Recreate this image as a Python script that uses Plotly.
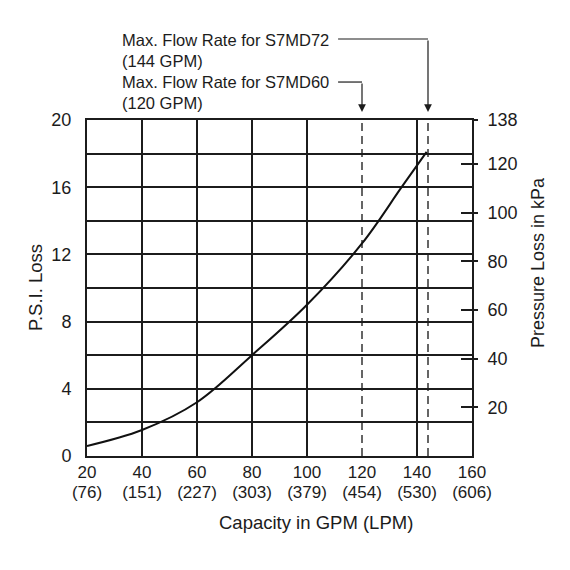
import plotly.graph_objects as go

# Данные
gpm = [20, 40, 60, 80, 100, 120, 134.4, 143.5]
psi = [0.6, 1.55, 3.2, 6.0, 9.0, 12.65, 16.0, 18.1]

gpm_ticks = [20, 40, 60, 80, 100, 120, 140, 160]
lpm_ticks = [76, 151, 227, 303, 379, 454, 530, 606]
psi_ticks = [0, 4, 8, 12, 16, 20]
kpa_ticks = [20, 40, 60, 80, 100, 120, 138]

grid_gpm = [40, 60, 80, 100, 140]  # сплошные вертикальные линии
max_flow = [120, 144]              # пунктир - максимальный расход
max_flow_labels = ["Max. Flow Rate for S7MD60<br>(120 GPM)",
                   "Max. Flow Rate for S7MD72<br>(144 GPM)"]

FONT = "Liberation Sans, Arial, sans-serif"
INK = "#1c1c1c"

fig = go.Figure()
fig.add_trace(go.Scatter(x=gpm, y=psi, mode="lines", line_shape="spline",
                         line=dict(color="#111111", width=2), hoverinfo="skip"))
# невидимые трассы для дополнительных осей
for xa, ya in [("x", "y2"), ("x", "y3"), ("x2", "y")]:
    fig.add_trace(go.Scatter(x=[gpm_ticks[0]], y=[psi_ticks[0]], xaxis=xa, yaxis=ya,
                             mode="markers", marker=dict(opacity=0), hoverinfo="skip"))

shapes = []
for g in grid_gpm:
    shapes.append(dict(type="line", xref="x", yref="y domain", x0=g, x1=g, y0=0, y1=1,
                       line=dict(color=INK, width=2), layer="below"))
for g in max_flow:
    shapes.append(dict(type="line", xref="x", yref="y domain", x0=g, x1=g, y0=0, y1=1,
                       line=dict(color="white", width=5), layer="below"))
    shapes.append(dict(type="line", xref="x", yref="y domain", x0=g, x1=g, y0=0, y1=1,
                       line=dict(color="#333333", width=1.5, dash="8px,5px"), layer="below"))

# выноски: горизонтальная часть
callout_y = [1.113, 1.241]
for g, cy in zip(max_flow, callout_y):
    shapes.append(dict(type="line", xref="x", yref="paper", x0=111.3, x1=g, y0=cy, y1=cy,
                       line=dict(color=INK, width=1.2)))

annotations = []
arrow_len = [-30, -73]
for g, ay in zip(max_flow, arrow_len):
    annotations.append(dict(x=g, y=1.024, xref="x", yref="paper", ax=0, ay=ay,
                            showarrow=True, arrowhead=2, arrowsize=1.3, arrowwidth=1.2,
                            arrowcolor=INK, text=""))
label_y = [1.082, 1.207]
for txt, ly in zip(max_flow_labels, label_y):
    annotations.append(dict(x=0.0857, y=ly, xref="paper", yref="paper", xanchor="left",
                            yanchor="middle", align="left", showarrow=False, text=txt,
                            font=dict(size=16.5, color=INK, family=FONT)))

# подписи осей
title_font = dict(size=18.5, color=INK, family=FONT)
annotations.append(dict(x=-0.135, y=0.5, xref="paper", yref="paper", text="P.S.I. Loss",
                        xanchor="center", yanchor="middle", textangle=-90,
                        showarrow=False, font=title_font))
annotations.append(dict(x=1.171, y=0.577, xref="paper", yref="paper", text="Pressure Loss in kPa",
                        xanchor="center", yanchor="middle", textangle=-90,
                        showarrow=False, font=dict(size=18, color=INK, family=FONT)))
annotations.append(dict(x=0.595, y=-0.199, xref="paper", yref="paper", text="Capacity in GPM (LPM)",
                        xanchor="center", yanchor="middle", showarrow=False, font=title_font))

fig.update_layout(
    width=562, height=562,
    margin=dict(l=79, r=98, t=112, b=114),
    paper_bgcolor="white", plot_bgcolor="white",
    showlegend=False,
    font=dict(family=FONT, size=18, color=INK),
    shapes=shapes, annotations=annotations,
    xaxis=dict(range=[20, 160], tickvals=gpm_ticks, ticktext=[str(g) for g in gpm_ticks],
               showgrid=False, zeroline=False, showline=True, mirror=True,
               linecolor=INK, linewidth=2, ticks="", ticklabelstandoff=0,
               tickfont=dict(size=17)),
    xaxis2=dict(range=[20, 160], tickvals=gpm_ticks, ticktext=[f"({l})" for l in lpm_ticks],
                overlaying="x", side="bottom", anchor="y", showgrid=False, zeroline=False,
                showline=False, ticks="", ticklabelstandoff=24, tickfont=dict(size=17)),
    yaxis=dict(range=[0, 20], tickvals=psi_ticks, showgrid=True, gridcolor=INK, gridwidth=2,
               minor=dict(dtick=2, showgrid=True, gridcolor=INK, gridwidth=2),
               zeroline=False, showline=True, mirror=True, linecolor=INK, linewidth=2,
               ticks="", ticklabelstandoff=10),
    yaxis2=dict(range=[0, 138], tickvals=kpa_ticks, overlaying="y", side="right", anchor="x",
                showgrid=False, zeroline=False, ticks="outside", ticklen=5, tickwidth=1.5,
                tickcolor=INK, ticklabelstandoff=6),
    yaxis3=dict(range=[0, 138], tickvals=kpa_ticks, overlaying="y", side="right", anchor="x",
                showgrid=False, zeroline=False, ticks="inside", ticklen=11, tickwidth=1.5,
                tickcolor=INK, showticklabels=False),
)

fig.write_html("out.html")
